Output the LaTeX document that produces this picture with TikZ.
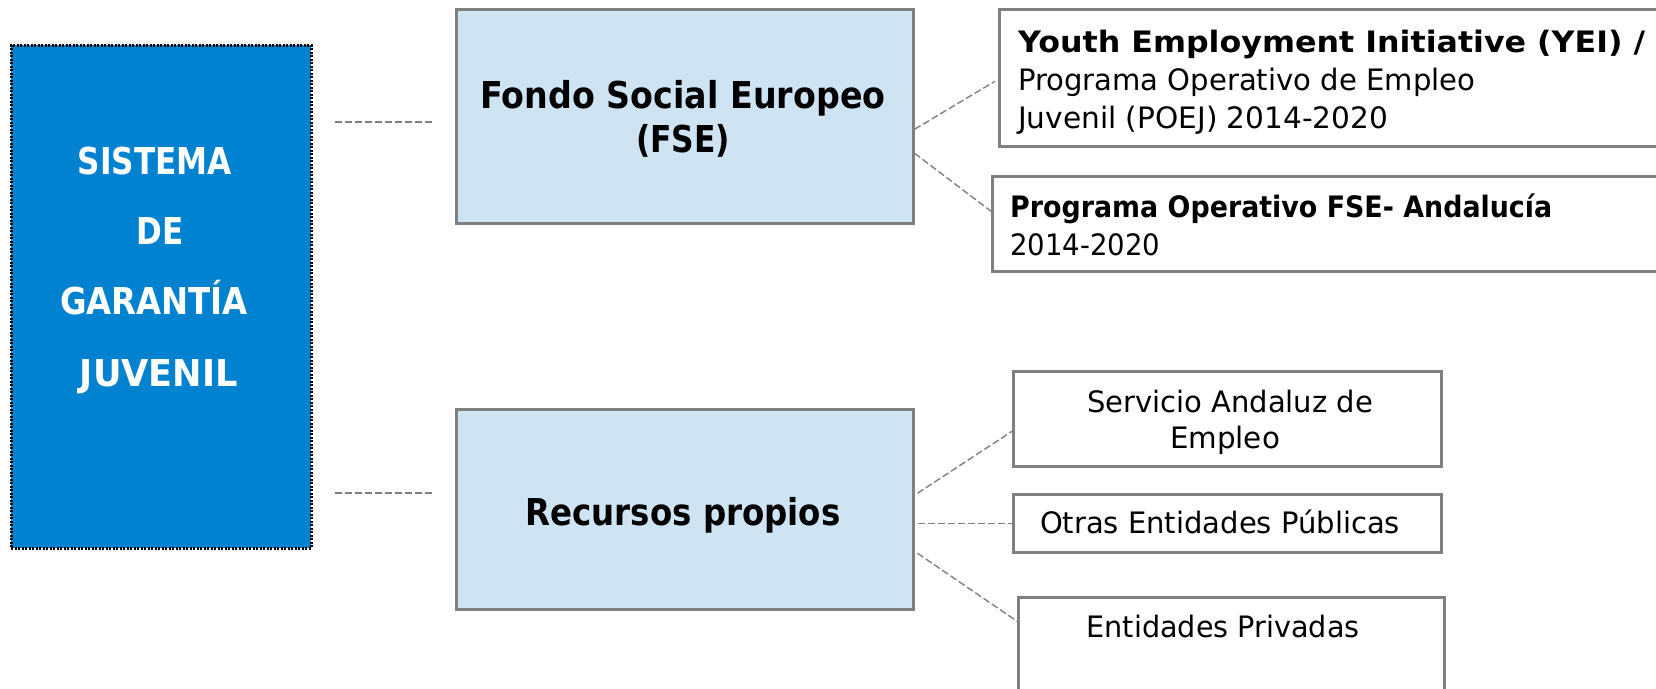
\documentclass[tikz,border=0pt]{standalone}
\usepackage{fontspec}
\setmainfont{DejaVu Sans}
\usepackage{graphicx}
\newcommand{\fitw}[2]{\resizebox{#1}{\height}{#2}}
\definecolor{sgblue}{RGB}{0,130,208}
\definecolor{lblue}{RGB}{207,228,243}
\definecolor{boxgray}{RGB}{128,128,128}
\begin{document}
\begin{tikzpicture}[x=1pt,y=-1pt,
  box/.style={draw=boxgray, line width=2.5pt, fill=#1, rectangle, inner sep=0pt, anchor=north west},
  conn/.style={draw=boxgray, line width=1.4pt, dash pattern=on 7pt off 3pt},
  wtxt/.style={inner sep=0pt, text=white, font=\fontsize{37}{40}\selectfont\bfseries, anchor=base},
  htxt/.style={inner sep=0pt, text=black, font=\fontsize{37}{40}\selectfont\bfseries, anchor=base},
  rtxt/.style={inner sep=0pt, text=black, font=\fontsize{29.5}{34}\selectfont},
]
\useasboundingbox (0,0) rectangle (1656,688);
\clip (0,0) rectangle (1656,688);
% left box
\node[box=sgblue, draw=black, dash pattern=on 2pt off 1.5pt, line width=2.5pt, minimum width=300pt, minimum height=503pt] (L) at (10,44) {};
\node[wtxt] (l1) at (155,174) {\fitw{154pt}{SISTEMA}};
\node[wtxt] (l2) at (160,244) {\fitw{47pt}{DE}};
\node[wtxt] (l3) at (154,314) {\fitw{188pt}{GARANTÍA}};
\node[wtxt] (l4) at (159,386) {\fitw{158pt}{JUVENIL}};
% middle boxes
\node[box=lblue, minimum width=457pt, minimum height=214pt] (FSE) at (455,8) {};
\node[htxt] (f1) at (683,108) {\fitw{405pt}{Fondo Social Europeo}};
\node[htxt] (f2) at (683,152) {\fitw{94pt}{(FSE)}};
\node[box=lblue, minimum width=457pt, minimum height=200pt] (REC) at (455,408) {};
\node[htxt] (r1) at (683,525) {\fitw{315pt}{Recursos propios}};
% right boxes
\node[box=white, minimum width=672pt, minimum height=137pt] (YEI) at (998,8) {};
\node[rtxt, anchor=base west] (y1) at (1018,52) {\fitw{627pt}{\bfseries Youth Employment Initiative (YEI) /}};
\node[rtxt, anchor=base west] (y2) at (1018,90) {\fitw{457pt}{Programa Operativo de Empleo}};
\node[rtxt, anchor=base west] (y3) at (1018,128) {\fitw{370pt}{Juvenil (POEJ) 2014-2020}};
\node[box=white, minimum width=680pt, minimum height=95pt] (AND) at (991,175) {};
\node[rtxt, anchor=base west] (a1) at (1010,217) {\fitw{542pt}{\bfseries Programa Operativo FSE- Andalucía}};
\node[rtxt, anchor=base west] (a2) at (1010,255) {\fitw{150pt}{2014-2020}};
\node[box=white, minimum width=428pt, minimum height=95pt] (SAE) at (1012,370) {};
\node[rtxt, anchor=base] (s1) at (1230,412) {\fitw{286pt}{Servicio Andaluz de}};
\node[rtxt, anchor=base] (s2) at (1225,448) {\fitw{110pt}{Empleo}};
\node[box=white, minimum width=428pt, minimum height=58pt] (OEP) at (1012,493) {};
\node[rtxt, anchor=base] (o1) at (1220,533) {\fitw{360pt}{Otras Entidades Públicas}};
\node[box=white, minimum width=426pt, minimum height=104pt] (EPR) at (1017,596) {};
\node[rtxt, anchor=base] (e1) at (1223,637) {\fitw{273pt}{Entidades Privadas}};
% connectors
\coordinate (c1a) at (335,122);
\coordinate (c1b) at (432,122);
\coordinate (c2a) at (335,493);
\coordinate (c2b) at (432,493);
\draw[conn] (c1a) -- (c1b);
\draw[conn] (c2a) -- (c2b);
\draw[conn] ([yshift=-13pt]FSE.east) -- ([xshift=-3pt,yshift=-3.5pt]YEI.west);
\draw[conn] ([yshift=-37pt]FSE.east) -- ([yshift=12.5pt]AND.west);
\draw[conn] ([xshift=3pt,yshift=16pt]REC.east) -- ([yshift=-12.5pt]SAE.west);
\draw[conn] ([xshift=3pt,yshift=-14pt]REC.east) -- (OEP.west);
\draw[conn] ([xshift=3pt,yshift=-44pt]REC.east) -- ([yshift=28pt]EPR.west);
\end{tikzpicture}
\end{document}
